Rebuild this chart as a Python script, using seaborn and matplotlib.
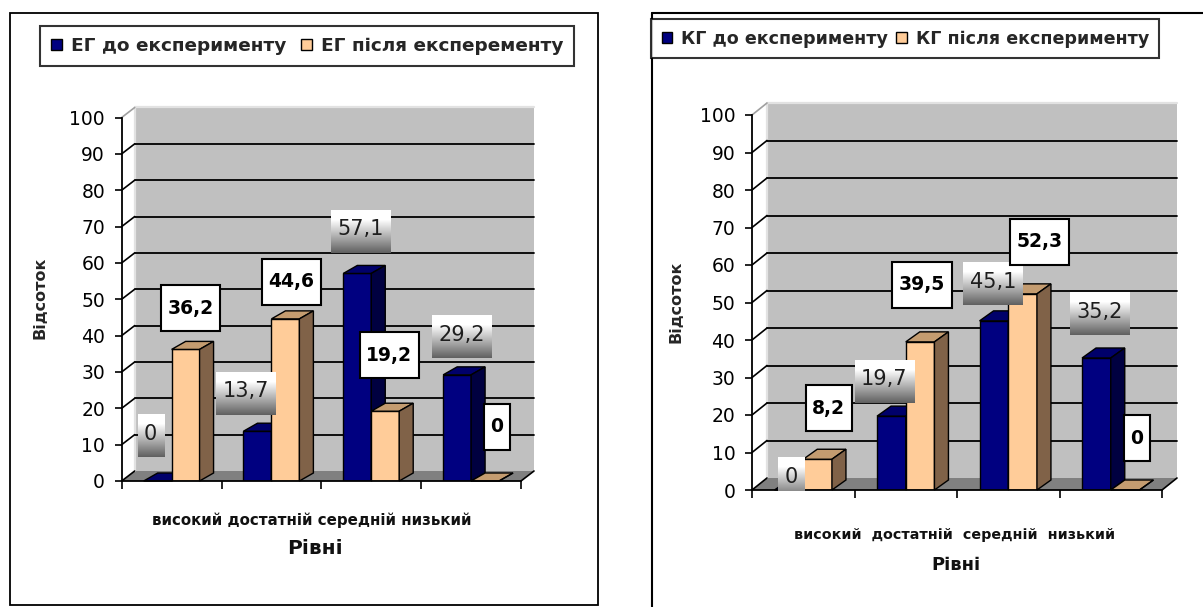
import numpy as np
import pandas as pd
import matplotlib
matplotlib.use("Agg")
import matplotlib.pyplot as plt
import seaborn as sns
from matplotlib.patches import Polygon, Rectangle, Patch
from matplotlib.image import BboxImage
from matplotlib.transforms import Bbox, IdentityTransform
from matplotlib.lines import Line2D

# ---------------- data ----------------
categories = ["високий", "достатній", "середній", "низький"]
eg_before = [0, 13.7, 57.1, 29.2]
eg_after = [36.2, 44.6, 19.2, 0]
kg_before = [0, 19.7, 45.1, 35.2]
kg_after = [8.2, 39.5, 52.3, 0]
eg_series = ["ЕГ до експерименту", "ЕГ після експеременту"]
kg_series = ["КГ до експерименту", "КГ після експерименту"]
y_ticks = [0, 10, 20, 30, 40, 50, 60, 70, 80, 90, 100]
y_label = "Відсоток"
x_label = "Рівні"

# ---------------- style ----------------
W, H = 1203, 607
sns.set_theme(style="white")
plt.rcParams["font.family"] = ["DejaVu Sans"]

BLUE, BLUE_TOP, BLUE_SIDE = "#000080", "#00006A", "#000040"
ORANGE, ORANGE_TOP, ORANGE_SIDE = "#FFCC99", "#C49C70", "#806248"
WALL, FLOOR = "#C0C0C0", "#808080"

fig = plt.figure(figsize=(W / 100, H / 100), dpi=100)
fig.patch.set_facecolor("white")


def fx(px):
    return px / W


def fy(py):
    return 1 - py / H


panels = [
    dict(before=eg_before, after=eg_after, names=eg_series,
         box=(121.7, 117.5, 521.0, 481.0), wall=(13, 10), depth=(14, 8),
         offs_b=[(-7, 47), (-12, 40), (3, 44), (5, 40)],
         offs_a=[(5, 41), (6, 37), (4, 56), (12, 54)],
         legend=(40, 26), ylab=(40, 298), cat=(312, 520), sep=" ", cat_size=10.8,
         xlab=(315, 549), xlab_size=14.5, colsp=0.75, leg_size=13.3),
    dict(before=kg_before, after=kg_after, names=kg_series,
         box=(752.0, 115.0, 1162.0, 490.0), wall=(15, 12), depth=(14, 10),
         offs_b=[(2, 13), (-7, 37), (-1, 39), (3, 46)],
         offs_a=[(11, 51), (2, 57), (17, 52), (12, 52)],
         legend=(651, 19), ylab=(676, 302), cat=(955, 535), sep="  ", cat_size=10.3,
         xlab=(956, 565), xlab_size=13, colsp=0.5, leg_size=12.6),
]

label_items = []

for p in panels:
    x0p, y0p, x1p, y1p = p["box"]
    ax = fig.add_axes([fx(x0p), fy(y1p), (x1p - x0p) / W, (y1p - y0p) / H])
    ax.set_facecolor("none")
    pxu_x = (x1p - x0p) / 4.0
    pxu_y = (y1p - y0p) / 100.0

    df = pd.DataFrame({
        "cat": categories * 2,
        "series": [p["names"][0]] * len(categories) + [p["names"][1]] * len(categories),
        "value": list(p["before"]) + list(p["after"]),
    })
    sns.barplot(data=df, x="cat", y="value", hue="series", order=categories,
                hue_order=p["names"], palette=[BLUE, ORANGE], width=0.56,
                dodge=True, saturation=1, edgecolor="black", linewidth=1,
                errorbar=None, legend=False, ax=ax)

    ax.set_xlim(-0.5, 3.5)
    ax.set_ylim(0, 100)

    wdx, wdy = p["wall"][0] / pxu_x, p["wall"][1] / pxu_y
    bdx, bdy = p["depth"][0] / pxu_x, p["depth"][1] / pxu_y

    # back wall and floor
    ax.add_patch(Rectangle((-0.5 + wdx, wdy), 4.0, 100, facecolor=WALL,
                           edgecolor="none", zorder=0.1, clip_on=False))
    ax.add_patch(Polygon([(-0.5, 0), (3.5, 0), (3.5 + wdx, wdy), (-0.5 + wdx, wdy)],
                         closed=True, facecolor=FLOOR, edgecolor="none",
                         zorder=0.2, clip_on=False))
    ax.add_line(Line2D([-0.5 + wdx, -0.5 + wdx, 3.5 + wdx], [wdy, 100 + wdy, 100 + wdy],
                       color="#E2E2E2", lw=1.6, zorder=0.25, clip_on=False))
    for v in y_ticks[1:-1]:
        ax.add_line(Line2D([-0.5 + wdx, 3.5 + wdx], [v + wdy, v + wdy], color="black",
                           lw=1.3, zorder=0.3, clip_on=False))
    for v in y_ticks:
        ax.add_line(Line2D([-0.5, -0.5 + wdx], [v, v + wdy],
                           color="black" if v < 100 else "#A0A0A0",
                           lw=1.2, zorder=0.4, clip_on=False))
    ax.add_line(Line2D([3.5, 3.5 + wdx], [0, wdy], color="black", lw=1.2,
                       zorder=0.4, clip_on=False))

    # 3D faces for bars
    tops = [BLUE_TOP, ORANGE_TOP]
    sides = [BLUE_SIDE, ORANGE_SIDE]
    offs = [p["offs_b"], p["offs_a"]]
    for si, cont in enumerate(ax.containers):
        z = 3 + si
        for bi, rect in enumerate(cont.patches):
            rect.set_zorder(z)
            bx, bw, bh = rect.get_x(), rect.get_width(), rect.get_height()
            ax.add_patch(Polygon([(bx, bh), (bx + bw, bh), (bx + bw + bdx, bh + bdy),
                                  (bx + bdx, bh + bdy)], closed=True,
                                 facecolor=tops[si], edgecolor="black", lw=1,
                                 zorder=z, clip_on=False))
            ax.add_patch(Polygon([(bx + bw, 0), (bx + bw, bh), (bx + bw + bdx, bh + bdy),
                                  (bx + bw + bdx, bdy)], closed=True,
                                 facecolor=sides[si], edgecolor="black", lw=1,
                                 zorder=z, clip_on=False))
            cx, cy = ax.transData.transform((bx + bw / 2, bh))
            ox, oy = offs[si][bi]
            s = f"{bh:g}".replace(".", ",")
            t = ax.text(cx + ox, cy + oy, s, transform=IdentityTransform(),
                        ha="center", va="center",
                        fontsize=13.5 if si == 1 else 15,
                        fontweight="bold" if si == 1 else "normal",
                        color="black" if si == 1 else "#1E1E1E", zorder=11)
            label_items.append((ax, t, si))

    # axes styling
    for sp in ["top", "right"]:
        ax.spines[sp].set_visible(False)
    for sp in ["left", "bottom"]:
        ax.spines[sp].set_color("black")
        ax.spines[sp].set_linewidth(1.3)
        ax.spines[sp].set_zorder(5)
    ax.set_yticks(y_ticks)
    ax.set_yticklabels([str(v) for v in y_ticks])
    ax.set_xticks([-0.5, 0.5, 1.5, 2.5, 3.5])
    ax.set_xticklabels([])
    ax.tick_params(axis="y", left=True, direction="out", length=5, width=1.2,
                   color="black", labelsize=13.5, pad=7, labelcolor="black")
    ax.tick_params(axis="x", bottom=True, direction="out", length=6, width=1.2,
                   color="black")
    ax.set_xlabel("")
    ax.set_ylabel("")

    # texts
    fig.text(fx(p["ylab"][0]), fy(p["ylab"][1]), y_label, rotation=90, ha="center",
             va="center", fontsize=11.5, fontweight="bold")
    fig.text(fx(p["cat"][0]), fy(p["cat"][1]), p["sep"].join(categories), ha="center",
             va="center", fontsize=p["cat_size"], fontweight="bold", color="#111111")
    fig.text(fx(p["xlab"][0]), fy(p["xlab"][1]), x_label, ha="center", va="center",
             fontsize=p["xlab_size"], fontweight="bold", color="#111111")

    # legend
    handles = [Patch(facecolor=BLUE, edgecolor="black", lw=1),
               Patch(facecolor=ORANGE, edgecolor="black", lw=1)]
    leg = fig.legend(handles, p["names"], ncol=2, loc="upper left",
                     bbox_to_anchor=(fx(p["legend"][0]), fy(p["legend"][1])),
                     frameon=True, fancybox=False, edgecolor="black",
                     borderaxespad=0, borderpad=0.6, handlelength=0.6,
                     handleheight=0.6, handletextpad=0.5, columnspacing=p["colsp"],
                     prop=dict(weight="bold", size=p["leg_size"]))
    leg.get_frame().set_linewidth(1.5)

# outer frames
fig.add_artist(Rectangle((fx(10), fy(605)), 588 / W, 592 / H, transform=fig.transFigure,
                         fill=False, edgecolor="black", lw=1.3))
fig.add_artist(Line2D([fx(652), fx(1203)], [fy(13), fy(13)], transform=fig.transFigure,
                      color="black", lw=1.5))
fig.add_artist(Line2D([fx(652), fx(652)], [fy(13), fy(607)], transform=fig.transFigure,
                      color="black", lw=1.5))

# label boxes
fig.canvas.draw()
renderer = fig.canvas.get_renderer()
g = np.concatenate([np.ones(14), np.linspace(1.0, 0.38, 50)])
grad = np.dstack([g, g, g]).reshape(-1, 1, 3)
for ax, t, si in label_items:
    bb = t.get_window_extent(renderer)
    cx, cy = (bb.x0 + bb.x1) / 2, (bb.y0 + bb.y1) / 2
    w = bb.width + 13
    if si == 1:
        h = 46
        ax.add_artist(Rectangle((cx - w / 2, cy - h / 2), w, h, transform=IdentityTransform(),
                                facecolor="white", edgecolor="black", lw=1.5,
                                zorder=10, clip_on=False))
    else:
        h = 43
        bi_img = BboxImage(Bbox.from_bounds(cx - w / 2, cy - h / 2 - 2, w, h),
                           interpolation="bilinear", zorder=10)
        bi_img.set_data(grad)
        ax.add_artist(bi_img)

fig.savefig("out.png", dpi=100)
